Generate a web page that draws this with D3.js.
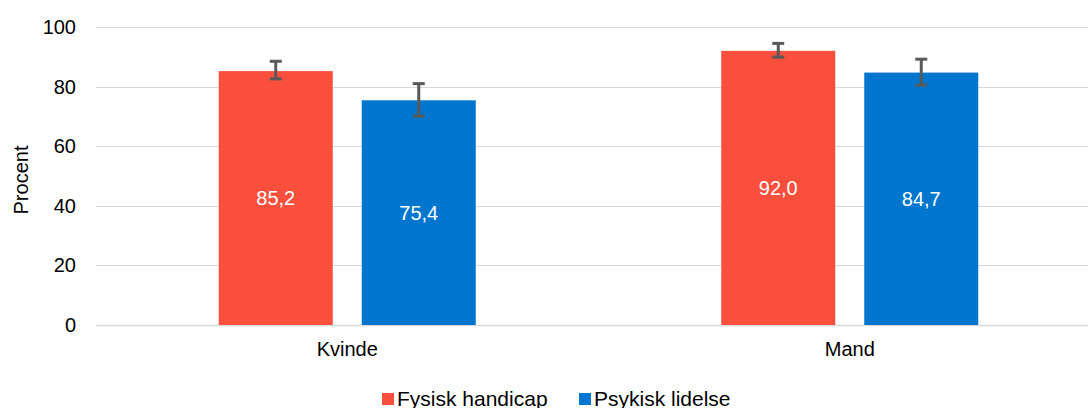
<!DOCTYPE html>
<style>
  body { margin: 0; background: #fff; }
  text { font-family: "Liberation Sans", Arial, sans-serif; }
</style>
<body></body>
<script src="https://cdn.jsdelivr.net/npm/d3@7"></script>
<script>
  const width = 1088
  const height = 408
  const categories = ["Kvinde", "Mand"]
  const seriesNames = ["Fysisk handicap", "Psykisk lidelse"]
  const colors = ["#F94F3C", "#0076CE"]
  const values = [
    [85.2, 92.0],   // Fysisk handicap
    [75.4, 84.7]    // Psykisk lidelse
  ]
  const errLow = [
    [82.6, 89.9],
    [70.1, 80.5]
  ]
  const errHigh = [
    [88.5, 94.5],
    [81.0, 89.2]
  ]
  const yTicks = [0, 20, 40, 60, 80, 100]

  const fontSize = 20
  const margin = { top: 27, right: -13, bottom: 83, left: 96 }

  const x = d3.scaleBand()
    .domain(categories)
    .range([margin.left, width - margin.right])
    .paddingInner(0).paddingOuter(0)

  const barW = 114
  const barGap = 29
  const offset = i => (i === 0 ? -barGap / 2 - barW : barGap / 2)

  const y = d3.scaleLinear()
    .domain([0, 100])
    .range([height - margin.bottom, margin.top])

  const svg = d3.select("body")
    .append("svg")
    .attr("width", width)
    .attr("height", height)

  // gridlines
  svg.append("g")
    .selectAll("line")
    .data(yTicks)
    .join("line")
    .attr("x1", margin.left)
    .attr("x2", width)
    .attr("y1", d => Math.round(y(d)) + 0.5)
    .attr("y2", d => Math.round(y(d)) + 0.5)
    .attr("stroke", "#d9d9d9")
    .attr("stroke-width", d => d === 0 ? 1.5 : 1.2)

  // y tick labels
  svg.append("g")
    .selectAll("text")
    .data(yTicks)
    .join("text")
    .attr("x", 76)
    .attr("y", d => y(d))
    .attr("dy", "0.35em")
    .attr("text-anchor", "end")
    .attr("font-size", fontSize)
    .attr("fill", "#000")
    .text(d => d)

  svg.append("text")
    .attr("transform", `translate(28, 180) rotate(-90)`)
    .attr("text-anchor", "middle")
    .attr("font-size", fontSize)
    .text("Procent")

  // bars
  seriesNames.forEach((s, i) => {
    const g = svg.append("g")
    const rows = categories.map((c, j) => ({ c, v: values[i][j], lo: errLow[i][j], hi: errHigh[i][j] }))
    const cx = d => x(d.c) + x.bandwidth() / 2 + offset(i)

    g.selectAll("rect")
      .data(rows)
      .join("rect")
      .attr("x", cx)
      .attr("y", d => y(d.v))
      .attr("width", barW)
      .attr("height", d => y(0) - y(d.v))
      .attr("fill", colors[i])

    g.selectAll("text.lbl")
      .data(rows)
      .join("text")
      .attr("class", "lbl")
      .attr("x", d => cx(d) + barW / 2)
      .attr("y", d => (y(d.v) + y(0)) / 2)
      .attr("dy", "0.35em")
      .attr("text-anchor", "middle")
      .attr("font-size", fontSize)
      .attr("fill", "#fff")
      .text(d => d3.format(".1f")(d.v).replace(".", ","))

    // error bars
    const eb = g.selectAll("g.err")
      .data(rows)
      .join("g")
      .attr("class", "err")
      .attr("stroke", "#595959")
      .attr("stroke-width", 3)
    eb.append("line")
      .attr("x1", d => cx(d) + barW / 2).attr("x2", d => cx(d) + barW / 2)
      .attr("y1", d => y(d.hi)).attr("y2", d => y(d.lo))
    eb.append("line")
      .attr("x1", d => cx(d) + barW / 2 - 6).attr("x2", d => cx(d) + barW / 2 + 6)
      .attr("y1", d => y(d.hi)).attr("y2", d => y(d.hi))
    eb.append("line")
      .attr("x1", d => cx(d) + barW / 2 - 6).attr("x2", d => cx(d) + barW / 2 + 6)
      .attr("y1", d => y(d.lo)).attr("y2", d => y(d.lo))
  })

  // category labels
  svg.append("g")
    .selectAll("text")
    .data(categories)
    .join("text")
    .attr("x", d => x(d) + x.bandwidth() / 2)
    .attr("y", 349)
    .attr("dy", "0.35em")
    .attr("text-anchor", "middle")
    .attr("font-size", fontSize)
    .text(d => d)

  // legend
  const legendX = [382, 579]
  const legend = svg.append("g")
    .selectAll("g")
    .data(seriesNames)
    .join("g")
    .attr("transform", (d, i) => `translate(${legendX[i]}, 399)`)
  legend.append("rect")
    .attr("x", 0).attr("y", -6)
    .attr("width", 12).attr("height", 12)
    .attr("fill", (d, i) => colors[i])
  legend.append("text")
    .attr("x", 15)
    .attr("dy", "0.35em")
    .attr("font-size", 21)
    .text(d => d)
</script>
